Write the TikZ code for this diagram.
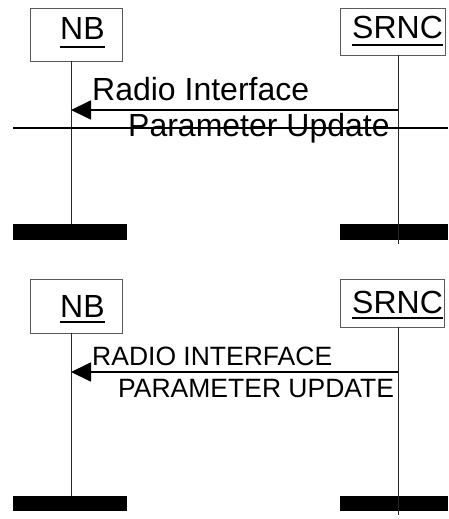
\documentclass[tikz,border=0pt]{standalone}
\usepackage{fontspec}
\setmainfont{Liberation Sans}
\usetikzlibrary{arrows.meta}
\begin{document}
\begin{tikzpicture}[x=1pt,y=-1pt,
  ent/.style={draw=black!65, line width=0.8pt, inner sep=0, anchor=north west},
  lab/.style={inner sep=0, anchor=base west, font=\fontsize{32}{32}\selectfont},
  slab/.style={inner sep=0, anchor=base west, font=\fontsize{26.5}{26.5}\selectfont},
  life/.style={line width=0.9pt, draw=black!85},
  msg/.style={line width=1.8pt, -{Triangle[length=20pt,width=19pt]}},
  bar/.style={fill=black, draw=none, inner sep=0, anchor=north west, minimum height=16pt},
  uline/.style={line width=1.8pt}]
\useasboundingbox (0,0) rectangle (448,519);

% ---------- upper diagram ----------
\node[ent, minimum width=92pt, minimum height=53pt] (nb1) at (30,8) {};
\node[ent, minimum width=105pt, minimum height=47pt] (srnc1) at (340,8) {};
\node[lab] (nbt1) at (60,40) {NB};
\node[lab] (srnct1) at (352,39) {SRNC};
\draw[uline] ([yshift=-7pt]nbt1.base west) -- ([yshift=-7pt]nbt1.base east);
\draw[uline] ([yshift=-6pt]srnct1.base west) -- ([yshift=-6pt]srnct1.base east);

\node[bar, minimum width=114pt] (bar1l) at (13,224) {};
\node[bar, minimum width=108pt] (bar1r) at (340,224) {};

\coordinate (nbtop1) at (71,61);
\coordinate (nbbot1) at (71,224);
\coordinate (srtop1) at (398,55);
\coordinate (srbot1) at (398,244);
\draw[life] (nbtop1) -- (nbbot1);
\draw[life] (srtop1) -- (srbot1);

\coordinate (m1s) at (398,110);
\coordinate (m1e) at (71,110);
\draw[msg] (m1s) -- (m1e);

\coordinate (hl) at (13,128);
\coordinate (hr) at (448,128);
\draw[line width=1.8pt] (hl) -- (hr);

\node[lab] (t1a) at (92,100) {Radio Interface};
\node[lab] (t1b) at (128,136) {Parameter Update};

% ---------- lower diagram ----------
\node[ent, minimum width=92pt, minimum height=54pt] (nb2) at (30,279) {};
\node[ent, minimum width=104pt, minimum height=48pt] (srnc2) at (340,279) {};
\node[lab] (nbt2) at (60,317) {NB};
\node[lab] (srnct2) at (352,313) {SRNC};
\draw[uline] ([yshift=-5pt]nbt2.base west) -- ([yshift=-5pt]nbt2.base east);
\draw[uline] ([yshift=-5pt]srnct2.base west) -- ([yshift=-5pt]srnct2.base east);

\node[bar, minimum width=114pt, minimum height=15pt] (bar2l) at (13,496) {};
\node[bar, minimum width=108pt, minimum height=15pt] (bar2r) at (340,496) {};

\coordinate (nbtop2) at (71,333);
\coordinate (nbbot2) at (71,496);
\coordinate (srtop2) at (398,327);
\coordinate (srbot2) at (398,515);
\draw[life] (nbtop2) -- (nbbot2);
\draw[life] (srtop2) -- (srbot2);

\coordinate (m2s) at (398,372);
\coordinate (m2e) at (71,372);
\draw[msg] (m2s) -- (m2e);

\node[slab] (t2a) at (92,365) {RADIO INTERFACE};
\node[slab] (t2b) at (118,397) {PARAMETER UPDATE};
\end{tikzpicture}
\end{document}
